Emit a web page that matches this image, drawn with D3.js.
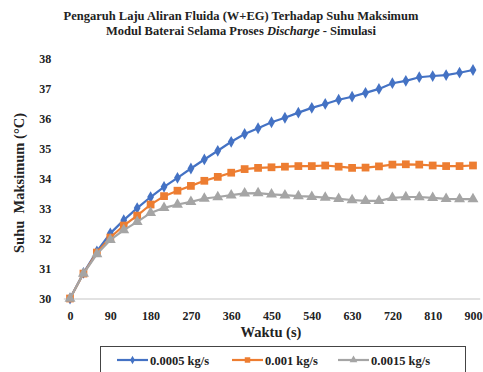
<!DOCTYPE html>
<html><head><meta charset="utf-8">
<script src="https://cdn.jsdelivr.net/npm/d3@7"></script>
<style>body{margin:0;background:#fff}svg{display:block}text{font-family:"Liberation Serif","Times New Roman",serif;font-weight:bold}</style>
</head><body>
<script>
const times = d3.range(0, 901, 30);
const seriesNames = ["0.0005 kg/s", "0.001 kg/s", "0.0015 kg/s"];
const blue = [30.0,30.85,31.57,32.17,32.61,33.01,33.38,33.72,34.02,34.33,34.63,34.92,35.22,35.48,35.67,35.87,36.02,36.19,36.35,36.48,36.62,36.72,36.85,36.98,37.17,37.25,37.37,37.41,37.44,37.52,37.61];
const orange = [30.0,30.83,31.53,32.03,32.43,32.76,33.13,33.41,33.59,33.75,33.92,34.05,34.19,34.31,34.35,34.37,34.39,34.41,34.41,34.43,34.39,34.35,34.36,34.40,34.46,34.47,34.46,34.43,34.41,34.41,34.43];
const gray = [30.0,30.83,31.48,31.95,32.28,32.55,32.85,33.02,33.13,33.22,33.33,33.38,33.44,33.50,33.51,33.47,33.44,33.41,33.39,33.36,33.32,33.28,33.25,33.25,33.35,33.38,33.38,33.35,33.32,33.31,33.31];
const xTicks = d3.range(0, 901, 90);
const yTicks = d3.range(30, 39, 1);
const colors = ["#4472C4", "#ED7D31", "#A5A5A5"];
const symbols = [d3.symbolDiamond, d3.symbolSquare, d3.symbolTriangle];
const symSizes = [40, 60, 52];

const W = 483, H = 372;
const svg = d3.select("body").append("svg").attr("width", W).attr("height", H);
const x = d3.scaleLinear().domain([-15, 915]).range([63.3, 479.7]);
const y = d3.scaleLinear().domain([30, 38]).range([298.5, 58.3]);

// title
svg.append("text").attr("x", 241).attr("y", 20).attr("text-anchor", "middle").attr("font-size", 12.5)
  .attr("fill", "#222").text("Pengaruh Laju Aliran Fluida (W+EG) Terhadap Suhu Maksimum");
const t2 = svg.append("text").attr("x", 241).attr("y", 35).attr("text-anchor", "middle").attr("font-size", 12.5).attr("fill", "#222");
t2.append("tspan").text("Modul Baterai Selama Proses ");
t2.append("tspan").attr("font-style", "italic").text("Discharge");
t2.append("tspan").text(" - Simulasi");

// x axis
const xa = svg.append("g").attr("transform", `translate(0,${y(30)})`)
  .call(d3.axisBottom(x).tickValues(xTicks).tickSize(0).tickPadding(13).tickFormat(d3.format("d")));
xa.select(".domain").attr("stroke", "#d9d9d9").attr("stroke-width", 1.3);
xa.selectAll("text").attr("font-size", 12).attr("fill", "#222").style("font-family", "Liberation Serif").style("font-weight", "bold");

// y axis
const ya = svg.append("g").attr("transform", `translate(${x(-15)},0)`)
  .call(d3.axisLeft(y).tickValues(yTicks).tickSize(0).tickPadding(12).tickFormat(d3.format("d")));
ya.select(".domain").remove();
ya.selectAll("text").attr("font-size", 12).attr("fill", "#222").style("font-family", "Liberation Serif").style("font-weight", "bold");

// axis titles
svg.append("text").attr("x", 271).attr("y", 337).attr("text-anchor", "middle").attr("font-size", 14.5).attr("fill", "#222").text("Waktu (s)");
svg.append("text").attr("transform", `translate(24,${183}) rotate(-90)`).attr("text-anchor", "middle").attr("font-size", 14.5)
  .attr("fill", "#222").attr("xml:space", "preserve").style("white-space", "pre").text("Suhu  Maksimum (\u00B0C)");

// series
const all = [blue, orange, gray];
const line = d3.line().x((d, i) => x(times[i])).y(d => y(d));
all.forEach((vals, k) => {
  svg.append("path").datum(vals).attr("d", line).attr("fill", "none").attr("stroke", colors[k]).attr("stroke-width", 2.2);
  svg.append("g").selectAll("path").data(vals).join("path")
    .attr("transform", (d, i) => `translate(${x(times[i])},${y(d)})`)
    .attr("d", d3.symbol().type(symbols[k]).size(symSizes[k])).attr("fill", colors[k]);
});

// legend
svg.append("rect").attr("x", 100.5).attr("y", 346.5).attr("width", 365).attr("height", 30).attr("fill", "none").attr("stroke", "#444").attr("stroke-width", 1);
const legX = [117, 232, 338];
seriesNames.forEach((n, k) => {
  const g = svg.append("g").attr("transform", `translate(${legX[k]},360)`);
  g.append("line").attr("x1", 0).attr("x2", 31).attr("stroke", colors[k]).attr("stroke-width", 2.2);
  g.append("path").attr("transform", "translate(15.5,0)").attr("d", d3.symbol().type(symbols[k]).size(symSizes[k] * 0.5)).attr("fill", colors[k]);
  g.append("text").attr("x", 33).attr("y", 4.5).attr("font-size", 12.5).attr("fill", "#222").text(n);
});
</script>
</body></html>
